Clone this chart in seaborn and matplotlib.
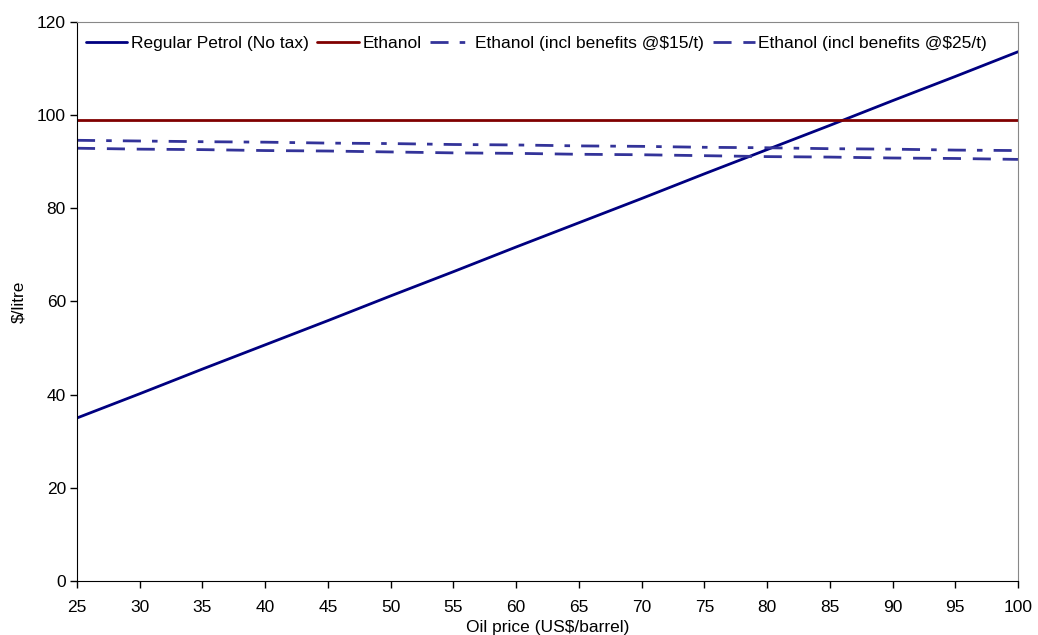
import pandas as pd
import seaborn as sns
import matplotlib.pyplot as plt

oil_price = [25, 30, 35, 40, 45, 50, 55, 60, 65, 70, 75, 80, 85, 90, 95, 100]
petrol = [35.0, 40.2, 45.5, 50.7, 55.9, 61.2, 66.4, 71.7, 76.9, 82.1, 87.4, 92.6, 97.8, 103.1, 108.3, 113.6]
ethanol = [99.0] * 16
ethanol_15 = [94.6, 94.45, 94.3, 94.2, 94.0, 93.9, 93.7, 93.6, 93.4, 93.3, 93.1, 93.0, 92.8, 92.7, 92.5, 92.4]
ethanol_25 = [92.9, 92.7, 92.6, 92.4, 92.3, 92.1, 91.9, 91.8, 91.6, 91.5, 91.3, 91.1, 91.0, 90.8, 90.7, 90.5]

series = {
    "Regular Petrol (No tax)": petrol,
    "Ethanol": ethanol,
    "Ethanol (incl benefits @$15/t)": ethanol_15,
    "Ethanol (incl benefits @$25/t)": ethanol_25,
}
styles = {
    "Regular Petrol (No tax)": ("#000080", "-"),
    "Ethanol": ("#800000", "-"),
    "Ethanol (incl benefits @$15/t)": ("#333399", (0, (13, 8, 4, 8))),
    "Ethanol (incl benefits @$25/t)": ("#333399", (0, (13, 8.5))),
}

sns.set_style("ticks")
plt.rcParams["font.family"] = ["Liberation Sans", "DejaVu Sans"]
plt.rcParams["lines.scale_dashes"] = False
plt.rcParams["text.color"] = "black"
plt.rcParams["axes.labelcolor"] = "black"
plt.rcParams["xtick.color"] = "black"
plt.rcParams["ytick.color"] = "black"

fig = plt.figure(figsize=(10.38, 6.35), dpi=100)
ax = fig.add_axes([0.0742, 0.085, 0.9065, 0.8804])

for name, vals in series.items():
    df = pd.DataFrame({"x": oil_price, "y": vals})
    color, ls = styles[name]
    sns.lineplot(data=df, x="x", y="y", ax=ax, color=color, linestyle=ls,
                 linewidth=2, label=name)

ax.set_xlim(25, 100)
ax.set_ylim(0, 120)
ax.set_xticks(range(25, 101, 5))
ax.set_yticks(range(0, 121, 20))
ax.tick_params(labelsize=12.5, length=5, width=1, direction="out")
ax.tick_params(axis="x", pad=9)
ax.tick_params(axis="y", pad=3)
ax.set_xlabel("Oil price (US$/barrel)", fontsize=12.5, labelpad=3)
ax.set_ylabel("$/litre", fontsize=12.5, labelpad=8)

for side in ["left", "bottom"]:
    ax.spines[side].set_color("black")
for side in ["top", "right"]:
    ax.spines[side].set_visible(True)
    ax.spines[side].set_color("#888888")

ax.legend(loc="upper left", ncol=4, frameon=False, fontsize=12.5,
          handlelength=2.4, handletextpad=0.2, columnspacing=0.5,
          borderaxespad=0.2, borderpad=0.3, bbox_to_anchor=(0.0, 0.99))

fig.savefig("out.png", dpi=100)
